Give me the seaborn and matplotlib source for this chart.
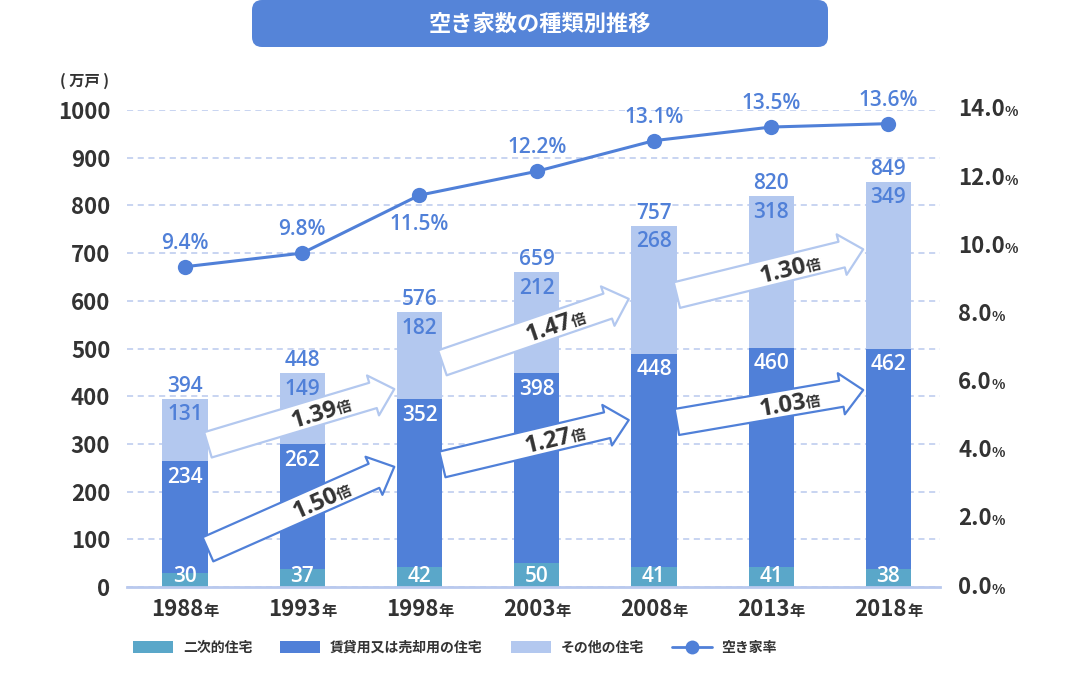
import numpy as np
import pandas as pd
import matplotlib
matplotlib.use("Agg")
import matplotlib.pyplot as plt
import seaborn as sns
from matplotlib.patches import FancyBboxPatch, FancyArrowPatch, Patch
from matplotlib.lines import Line2D
from matplotlib.offsetbox import TextArea, HPacker, AnnotationBbox

# ---------------- data ----------------
years = ["1988", "1993", "1998", "2003", "2008", "2013", "2018"]
secondary = [30, 37, 42, 50, 41, 41, 38]          # 二次的住宅
rental = [234, 262, 352, 398, 448, 460, 462]      # 賃貸用又は売却用の住宅
other = [131, 149, 182, 212, 268, 318, 349]       # その他の住宅
totals = [394, 448, 576, 659, 757, 820, 849]
vacancy_rate = [9.4, 9.8, 11.5, 12.2, 13.1, 13.5, 13.6]  # 空き家率 (%)
rate_label_below = [False, False, True, False, False, False, False]

left_ticks = list(range(0, 1001, 100))
right_ticks = [0, 2, 4, 6, 8, 10, 12, 14]

# growth arrows: label, from index, to index, start value, end value, series
arrow_labels = ["1.50", "1.39", "1.27", "1.47", "1.03", "1.30"]
arrow_from = [0, 0, 2, 2, 4, 4]
arrow_to = [2, 2, 4, 4, 6, 6]
arrow_start = [79, 298, 257, 470, 346, 612]
arrow_end = [252, 415, 350, 604, 413, 708]
arrow_series = ["rental", "other", "rental", "other", "rental", "other"]

title = "空き家数の種類別推移"
unit_label = "( 万戸 )"
legend_labels = ["二次的住宅", "賃貸用又は売却用の住宅", "その他の住宅", "空き家率"]

# ---------------- style ----------------
C_TEAL = "#5aa7c9"
C_BLUE = "#5080d8"
C_LIGHT = "#b3c8ef"
C_GRID = "#b9c9ee"
C_TEXT = "#333333"

sns.set_theme(style="white")
plt.rcParams["font.family"] = ["Noto Sans CJK JP", "DejaVu Sans"]
NUM_FONT = ["Open Sans", "Noto Sans CJK JP", "DejaVu Sans"]

W, H = 1080, 683
fig = plt.figure(figsize=(W / 100, H / 100), dpi=100)
ax = fig.add_axes([127 / W, 1 - 587 / H, 813 / W, 477 / H])

df = pd.DataFrame({
    "year": years,
    "secondary": secondary,
    "cum2": np.array(secondary) + np.array(rental),
    "cum3": np.array(secondary) + np.array(rental) + np.array(other),
})

bw = 0.385
sns.barplot(data=df, x="year", y="cum3", color=C_LIGHT, saturation=1, width=bw,
            errorbar=None, ax=ax, edgecolor="none", zorder=2)
sns.barplot(data=df, x="year", y="cum2", color=C_BLUE, saturation=1, width=bw,
            errorbar=None, ax=ax, edgecolor="none", zorder=2)
sns.barplot(data=df, x="year", y="secondary", color=C_TEAL, saturation=1, width=bw,
            errorbar=None, ax=ax, edgecolor="none", zorder=2)

xlim = (-0.495, 6.44)
ax.set_xlim(*xlim)
ax.set_ylim(0, 1000)
ax.set_yticks(left_ticks)
ax.set_yticklabels([str(v) for v in left_ticks])
ax.yaxis.grid(True, linestyle=(0, (4, 3)), color=C_GRID, lw=1.1)
ax.xaxis.grid(False)
ax.set_axisbelow(True)
for s in ["top", "right", "left"]:
    ax.spines[s].set_visible(False)
ax.spines["bottom"].set_color(C_GRID)
ax.spines["bottom"].set_linewidth(2)
ax.set_xlabel("")
ax.set_ylabel("")
ax.tick_params(axis="y", length=0, pad=12, labelsize=16, labelcolor=C_TEXT)
for t in ax.get_yticklabels():
    t.set_fontweight("bold")
ax.set_xticklabels([])
ax.tick_params(axis="x", length=0)

# x labels with small 年
for i, y in enumerate(years):
    hp = HPacker(children=[
        TextArea(y, textprops=dict(fontsize=16, fontweight="bold", color=C_TEXT)),
        TextArea("年", textprops=dict(fontsize=11, fontweight="bold", color=C_TEXT)),
    ], align="baseline", pad=0, sep=0)
    ab = AnnotationBbox(hp, xy=(i, 0), xycoords=("data", "axes fraction"),
                        xybox=(0, -16), boxcoords="offset points",
                        frameon=False, box_alignment=(0.5, 0.5), annotation_clip=False)
    ax.add_artist(ab)

# bar labels
lab_kw = dict(textcoords="offset points", ha="center", va="center", fontsize=15,
              fontweight="semibold", family=NUM_FONT, zorder=6)
for i in range(len(years)):
    c2 = secondary[i] + rental[i]
    c3 = c2 + other[i]
    ax.annotate(str(totals[i]), xy=(i, c3), xytext=(0, 9), color=C_BLUE, **lab_kw)
    ax.annotate(str(other[i]), xy=(i, c3), xytext=(0, -11.5), color=C_BLUE, **lab_kw)
    ax.annotate(str(rental[i]), xy=(i, c2), xytext=(0, -11.5), color="white", **lab_kw)
    ax.annotate(str(secondary[i]), xy=(i, 0), xytext=(0, 7.5), color="white", **lab_kw)

# growth arrows
arrow_color = {"rental": C_BLUE, "other": C_LIGHT}
for lab, f, t, v0, v1, ser in zip(arrow_labels, arrow_from, arrow_to,
                                  arrow_start, arrow_end, arrow_series):
    x0 = f + bw / 2 + 0.003
    x1 = t - 0.215
    arr = FancyArrowPatch((x0, v0), (x1, v1),
                          arrowstyle="simple,head_length=16,head_width=30,tail_width=19",
                          mutation_scale=1, shrinkA=0, shrinkB=0,
                          facecolor="white", edgecolor=arrow_color[ser], lw=1.6, zorder=4)
    ax.add_patch(arr)
    p0 = ax.transData.transform((x0, v0))
    p1 = ax.transData.transform((x1, v1))
    ang = np.degrees(np.arctan2(p1[1] - p0[1], p1[0] - p0[0]))
    tt = 0.69
    xm = x0 + tt * (x1 - x0)
    vm = v0 + tt * (v1 - v0)
    r = np.radians(ang)
    off = 6.0
    ox, oy = off * np.sin(r), -off * np.cos(r)
    ax.annotate(lab, xy=(xm, vm), xytext=(ox, oy), textcoords="offset points",
                rotation=ang, rotation_mode="anchor", ha="right", va="baseline",
                fontsize=17, fontweight="bold", family=NUM_FONT, color=C_TEXT, zorder=7)
    ax.annotate("倍", xy=(xm, vm), xytext=(ox, oy), textcoords="offset points",
                rotation=ang, rotation_mode="anchor", ha="left", va="baseline",
                fontsize=10.5, fontweight="bold", color=C_TEXT, zorder=7)

# vacancy rate line
ax2 = ax.twinx()
sns.lineplot(x=np.arange(len(years)), y=vacancy_rate, ax=ax2, color=C_BLUE,
             lw=2.2, marker="o", markersize=11, markeredgewidth=0, zorder=5)
ax2.set_xlim(*xlim)
ax2.set_ylim(0, 14)
ax2.set_yticks(right_ticks)
ax2.set_yticklabels([])
ax2.tick_params(axis="y", length=0)
ax2.grid(False)
for s in ax2.spines.values():
    s.set_visible(False)
for i, v in enumerate(vacancy_rate):
    dy = -21 if rate_label_below[i] else 17
    ax2.annotate(f"{v:.1f}%", xy=(i, v), xytext=(0, dy), color=C_BLUE, **lab_kw)

for v in right_ticks:
    hp = HPacker(children=[
        TextArea(f"{v:.1f}", textprops=dict(fontsize=16, fontweight="bold", color=C_TEXT)),
        TextArea("%", textprops=dict(fontsize=10, fontweight="bold", color=C_TEXT)),
    ], align="baseline", pad=0, sep=0)
    ab = AnnotationBbox(hp, xy=(1, v), xycoords=("axes fraction", "data"),
                        xybox=(13, 0), boxcoords="offset points",
                        frameon=False, box_alignment=(0, 0.5), annotation_clip=False)
    ax2.add_artist(ab)

# unit label
fig.text(85 / W, 1 - 81 / H, unit_label, ha="center", va="center",
         fontsize=11, fontweight="bold", color=C_TEXT)

# title box
box = FancyBboxPatch((2.52, (H - 47) / 100), 5.76, 0.47,
                     boxstyle="round,pad=0,rounding_size=0.1",
                     transform=fig.dpi_scale_trans, facecolor="#5584d8",
                     edgecolor="none", zorder=0)
fig.patches.append(box)
fig.text(0.5, 1 - 24 / H, title, ha="center", va="center", fontsize=16,
         fontweight="bold", color="white")

# legend
handles = [
    Patch(facecolor=C_TEAL, edgecolor="none"),
    Patch(facecolor=C_BLUE, edgecolor="none"),
    Patch(facecolor=C_LIGHT, edgecolor="none"),
    Line2D([0], [0], color=C_BLUE, lw=2, marker="o", markersize=10, markeredgewidth=0),
]
leg = fig.legend(handles, legend_labels, loc="center", bbox_to_anchor=(455 / W, 1 - 648 / H),
                 ncol=4, frameon=False, handlelength=2.9, handleheight=0.9,
                 handletextpad=0.7, columnspacing=2.0,
                 prop=dict(family=["Noto Sans CJK JP", "DejaVu Sans"], size=10, weight="bold"))
for t in leg.get_texts():
    t.set_color(C_TEXT)

fig.savefig("out.png", dpi=100)
